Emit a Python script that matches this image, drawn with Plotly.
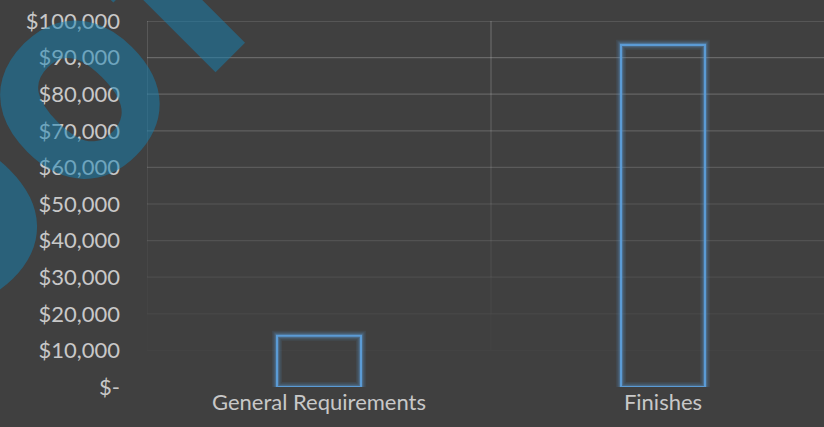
import plotly.graph_objects as go

categories = ["General Requirements", "Finishes"]
values = [14000, 93500]
tick_vals = [0, 10000, 20000, 30000, 40000, 50000, 60000, 70000, 80000, 90000, 100000]
tick_text = ["$-", "$10,000", "$20,000", "$30,000", "$40,000", "$50,000",
             "$60,000", "$70,000", "$80,000", "$90,000", "$100,000"]
watermark = "Proof"

BG = "#404040"
BLUE = "#5b9bd5"
TXT = "#c8c8c8"

fig = go.Figure()
# glow layers
for w, a in [(10, 0.10), (7, 0.16), (4.5, 0.25)]:
    fig.add_trace(go.Bar(x=categories, y=values, width=0.244,
                         marker=dict(color="rgba(0,0,0,0)",
                                     line=dict(color=f"rgba(91,155,213,{a})", width=w)),
                         hoverinfo="skip", showlegend=False))
fig.add_trace(go.Bar(x=categories, y=values, width=0.244,
                     marker=dict(color="rgba(0,0,0,0)", line=dict(color=BLUE, width=2.2)),
                     showlegend=False))

# fading gridlines
shapes = []
n = len(tick_vals)
def alpha(v):
    return max(0.0, 0.02 + 0.22 * (v - 10000) / 90000) if v >= 10000 else 0.0
for v in tick_vals:
    a = alpha(v)
    if a > 0:
        shapes.append(dict(type="line", xref="paper", yref="y", x0=0, x1=1, y0=v, y1=v,
                           line=dict(color=f"rgba(255,255,255,{a:.3f})", width=1.2), layer="below"))
for xb in [-0.5, 0.5]:
    for i in range(1, n):
        a = alpha(tick_vals[i - 1])
        if a > 0:
            shapes.append(dict(type="line", xref="x", yref="y", x0=xb, x1=xb,
                               y0=tick_vals[i - 1], y1=tick_vals[i],
                               line=dict(color=f"rgba(255,255,255,{a:.3f})", width=1.2), layer="below"))

fig.update_layout(
    width=824, height=427,
    margin=dict(l=147, r=0, t=21, b=40),
    paper_bgcolor=BG, plot_bgcolor=BG,
    barmode="overlay",
    font=dict(family="Lato, sans-serif", color=TXT, size=22),
    shapes=shapes,
    annotations=[dict(text=f"<b>{watermark}</b>", xref="paper", yref="paper",
                      x=-0.318, y=0.505, xanchor="center", yanchor="middle",
                      textangle=-45, showarrow=False,
                      font=dict(size=280, color="rgba(20,130,180,0.5)",
                                family="Open Sans, sans-serif"))],
)
fig.update_xaxes(range=[-0.5, -0.5 + 677 / 344], showgrid=False, zeroline=False,
                 showline=False, ticks="", tickfont=dict(size=22, color=TXT))
fig.update_yaxes(range=[0, 100000], tickvals=tick_vals, ticktext=tick_text,
                 showgrid=False, zeroline=False, showline=False, ticks="",
                 ticklabelstandoff=26, tickfont=dict(size=22, color=TXT))

fig.write_html("out.html", config={"displayModeBar": False},
               post_script="document.body.style.margin='0';document.body.style.background='#404040';")
